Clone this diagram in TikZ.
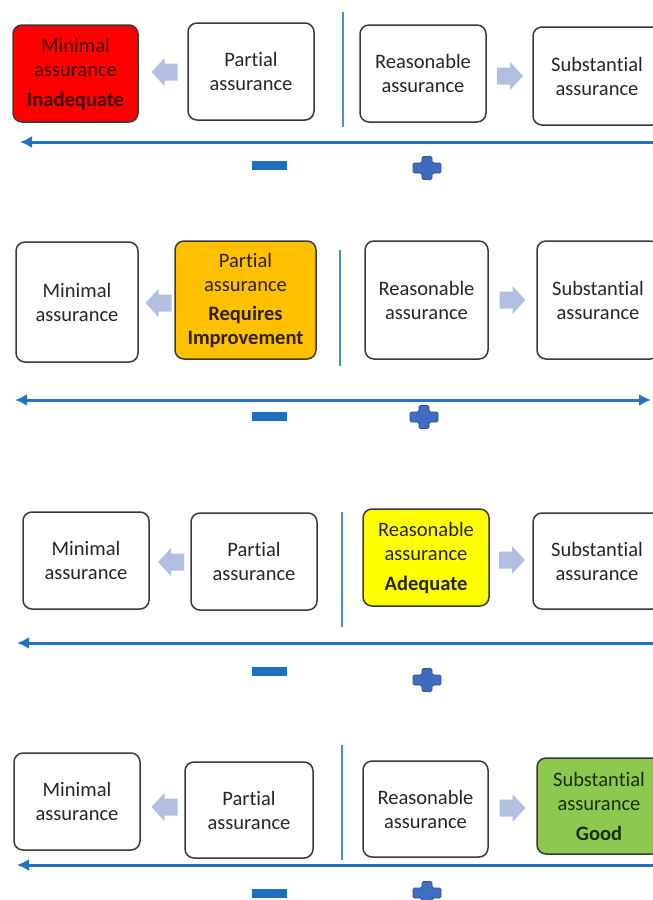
\documentclass[tikz,border=0pt]{standalone}
\usepackage{fontspec}
\setmainfont{Carlito}[Ligatures={NoCommon}]
\usetikzlibrary{arrows.meta,calc}
\definecolor{boxline}{HTML}{3A3A3A}
\definecolor{txt}{HTML}{262626}
\definecolor{blk}{HTML}{B3BFE0}
\definecolor{axisc}{HTML}{2472C0}
\definecolor{vlinec}{HTML}{4A90D0}
\definecolor{minusc}{HTML}{1F6FC0}
\definecolor{plusc}{HTML}{3E6DC2}
\definecolor{redf}{HTML}{FF0000}
\definecolor{redt}{HTML}{400000}
\definecolor{orangef}{HTML}{FFC000}
\definecolor{oranget}{HTML}{2E2000}
\definecolor{yellowf}{HTML}{FFFF00}
\definecolor{greenf}{HTML}{8DC850}
\definecolor{greent}{HTML}{1C2E0A}
\tikzset{
  box/.style={draw=boxline, line width=1.5pt, rounded corners=9pt, align=center,
    text=txt, font=\fontsize{20.5}{24}\selectfont, inner sep=0pt},
  blockarr/.pic={\fill[blk] (-13,-8.5) -- (0,-8.5) -- (0,-14) -- (13,0) -- (0,14)
    -- (0,8.5) -- (-13,8.5) -- cycle;},
  axisline/.style={draw=axisc, line width=3pt},
  vsep/.style={draw=vlinec, line width=2pt},
  minusbar/.style={fill=minusc, minimum width=35pt, minimum height=9pt, inner sep=0pt},
  plusmark/.pic={\draw[draw=plusc!75!black, fill=plusc, line width=0.8pt, rounded corners=1.5pt]
    (-5,-11.5) -- (5,-11.5) -- (5,-5) -- (14,-5) -- (14,5) -- (5,5) -- (5,11.5)
    -- (-5,11.5) -- (-5,5) -- (-14,5) -- (-14,-5) -- (-5,-5) -- cycle;},
  tipl/.style={-{Latex[length=12pt,width=12pt]}},
  tipb/.style={{Latex[length=12pt,width=12pt]}-{Latex[length=12pt,width=12pt]}}
}
% name, x1, y1, x2, y2, fill, text
\newcommand\asbox[7]{\node[box, fill=#6, minimum width={#4-#2}, minimum height={#5-#3}]
  (#1) at ({(#2+#4)/2},{(#3+#5)/2}) {#7};}
\begin{document}
\begin{tikzpicture}[x=1pt,y=-1pt]
\useasboundingbox (0,0) rectangle (653,900);
\clip (0,0) rectangle (653,900);
\fill[white] (0,0) rectangle (653,900);

% ---------- Panel 1 ----------
\asbox{m1}{13}{25}{138}{122}{redf}{\color{redt}Minimal\\\color{redt}assurance\\[6pt]\color{redt}\bfseries Inadequate}
\asbox{p1}{188}{23}{314}{120}{white}{Partial\\assurance}
\asbox{r1}{360}{25}{486}{122}{white}{Reasonable\\assurance}
\asbox{s1}{533}{27}{661}{125}{white}{Substantial\\assurance}
\pic[rotate=180] at (164.5,72) {blockarr};
\pic at (510,76) {blockarr};
\coordinate (v1t) at (343,12); \coordinate (v1b) at (343,127);
\draw[vsep] (v1t) -- (v1b);
\coordinate (a1l) at (20,142); \coordinate (a1r) at (680,142);
\draw[axisline, tipl] (a1r) -- (a1l);
\node[minusbar] (n1) at (269.5,165.5) {};
\pic at (427,168) {plusmark};

% ---------- Panel 2 ----------
\asbox{m2}{16}{242}{138}{362}{white}{Minimal\\assurance}
\asbox{p2}{175}{241}{316}{359}{orangef}{\color{oranget}Partial\\\color{oranget}assurance\\[5pt]\color{oranget}\bfseries Requires\\\color{oranget}\bfseries Improvement}
\asbox{r2}{365}{241}{488}{359}{white}{Reasonable\\assurance}
\asbox{s2}{537}{241}{659}{359}{white}{Substantial\\assurance}
\pic[rotate=180] at (158.5,303) {blockarr};
\pic at (512.5,300) {blockarr};
\coordinate (v2t) at (340,250); \coordinate (v2b) at (340,366);
\draw[vsep] (v2t) -- (v2b);
\coordinate (a2l) at (15,400); \coordinate (a2r) at (651,400);
\draw[axisline, tipb] (a2l) -- (a2r);
\node[minusbar] (n2) at (269.5,416) {};
\pic at (424,417) {plusmark};

% ---------- Panel 3 ----------
\asbox{m3}{23}{512}{149}{609}{white}{Minimal\\assurance}
\asbox{p3}{191}{513}{317}{610}{white}{Partial\\assurance}
\asbox{r3}{363}{509}{489}{606}{yellowf}{Reasonable\\assurance\\[6pt]\bfseries\color{black!85}Adequate}
\asbox{s3}{533}{513}{661}{609}{white}{Substantial\\assurance}
\pic[rotate=180] at (171,562) {blockarr};
\pic at (512,560) {blockarr};
\coordinate (v3t) at (342,512); \coordinate (v3b) at (342,627);
\draw[vsep] (v3t) -- (v3b);
\coordinate (a3l) at (17,643); \coordinate (a3r) at (680,643);
\draw[axisline, tipl] (a3r) -- (a3l);
\node[minusbar] (n3) at (269.5,671) {};
\pic at (427,680) {plusmark};

% ---------- Panel 4 ----------
\asbox{m4}{14}{753}{140}{850}{white}{Minimal\\assurance}
\asbox{p4}{185}{762}{313}{858}{white}{Partial\\assurance}
\asbox{r4}{363}{761}{488}{857}{white}{Reasonable\\assurance}
\asbox{s4}{537}{758}{661}{854}{greenf}{\color{greent}Substantial\\\color{greent}assurance\\[6pt]\color{greent}\bfseries Good}
\pic[rotate=180] at (164.5,807) {blockarr};
\pic at (512.5,808) {blockarr};
\coordinate (v4t) at (342,745); \coordinate (v4b) at (342,860);
\draw[vsep] (v4t) -- (v4b);
\coordinate (a4l) at (17,865); \coordinate (a4r) at (680,865);
\draw[axisline, tipl] (a4r) -- (a4l);
\node[minusbar] (n4) at (269.5,893) {};
\pic at (427,893) {plusmark};
\end{tikzpicture}
\end{document}
